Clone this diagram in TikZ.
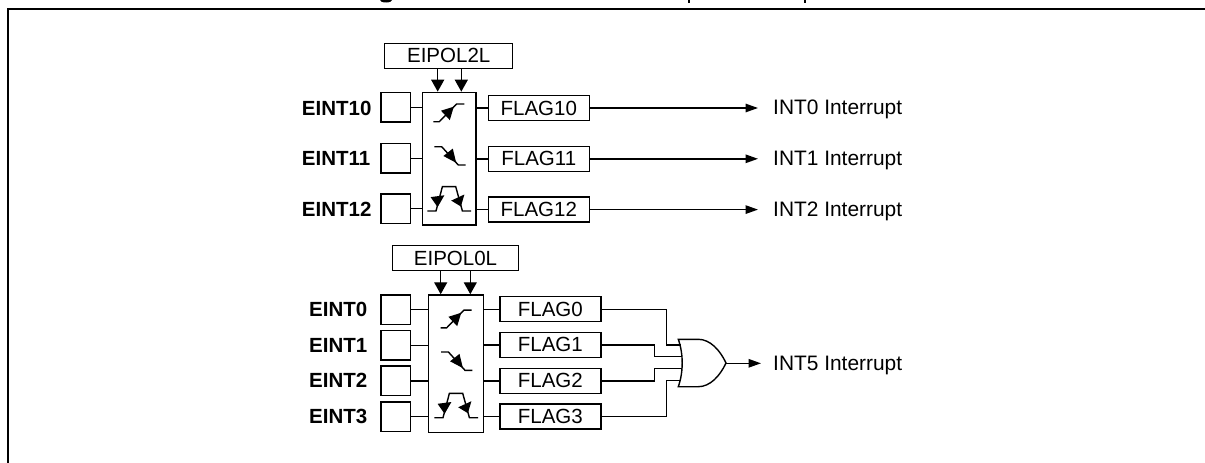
\documentclass[tikz,border=0pt]{standalone}
\usepackage{fontspec}
\setmainfont{Liberation Sans}
\usetikzlibrary{arrows.meta}
\tikzset{
    regbox/.style={draw,line width=1.4pt,inner sep=0pt,minimum width=101pt,minimum height=25pt,font=\fontsize{20.5}{24}\selectfont},
    pinbox/.style={draw,line width=1.4pt,inner sep=0pt,minimum width=29.7pt,minimum height=29.5pt},
    edgebox/.style={draw,line width=1.4pt,inner sep=0pt},
    pinlabel/.style={anchor=west,inner sep=0pt,font=\fontsize{20.5}{24}\selectfont\bfseries},
    intlabel/.style={anchor=west,inner sep=0pt,text height=14.7pt,text depth=0pt,font=\fontsize{20.9}{24}\selectfont},
    wire/.style={line width=1.4pt},
    polarrow/.style={wire,-{Triangle[length=12pt,width=13pt]}},
    intarrow/.style={wire,-{Triangle[length=12.5pt,width=8.5pt]},shorten >=15pt},
    rising/.pic={
        \draw[wire] (-15.5,9) -- (-9.5,9) -- (7.8,-8.7) -- (15.5,-8.7);
        \fill (5,-6) -- (-7.8,-2) -- (1,7.4) -- cycle;
    },
    falling/.pic={
        \draw[wire] (-15.7,-9.3) -- (-8.3,-9.3) -- (8.3,9) -- (15.7,9);
        \fill (6.2,6.8) -- (-6.6,0) -- (2.8,-7.4) -- cycle;
    },
    pulse/.pic={
        \draw[wire] (-21.8,12.7) -- (-13.2,12.7) -- (-6.8,-11.7) -- (6.5,-11.7) -- (13.2,12.7) -- (21.8,12.7);
        \fill (-4.8,-3) -- (-18.6,-1.2) -- (-11.6,8.8) -- cycle;
        \fill (2,2.3) -- (15.2,-3.8) -- (11.7,8.2) -- cycle;
    },
}
\begin{document}
\begin{tikzpicture}[x=1pt,y=-1pt]
    \useasboundingbox (0,0) rectangle (1205,463);
    % Frame, open at the right and at the bottom
    \draw[line width=2pt] (8,463) -- (8,9) -- (1205,9);
    % What is left of the cut-off caption
    \fill (386,0) ellipse (6 and 2.5);
    \foreach \x in {688,804}{
        \fill (\x,0) rectangle ++(2,2.7);
    }

    % Upper group
    \node[regbox,minimum width=128pt] (eipol2) at (448.7,55.8) {EIPOL2L};
    \node[edgebox,minimum width=53.3pt,minimum height=132.7pt] (edge2) at (449.3,158.7) {};
    \draw[polarrow] ([xshift=-11pt]eipol2.south) -- ([xshift=-11pt]eipol2.south |- edge2.north);
    \draw[polarrow] ([xshift=12.6pt]eipol2.south) -- ([xshift=12.6pt]eipol2.south |- edge2.north);
    \pic at (448.8,112.7) {rising};
    \pic at (450,156) {falling};
    \pic at (449.2,198.3) {pulse};
    \foreach \n/\p/\y/\f/\t in {10/0/107.2/108/108,11/1/158.3/158.8/158.3,12/2/208.7/209.6/209}{
        \node[pinlabel] (eint\n) at (301.7,\t) {EINT\n};
        \node[pinbox] (pin\n) at (395.8,\y) {};
        \node[regbox] (flag\n) at (538.8,\f) {FLAG\n};
        \node[intlabel] (int\p) at (773,\y) {INT\p{} Interrupt};
        \draw[wire] (pin\n.east) -- (pin\n.east -| edge2.west);
        \draw[wire] (edge2.east |- flag\n.west) -- (flag\n.west);
        \draw[intarrow] (flag\n.east) -- (flag\n.east -| int\p.west);
    }

    % Lower group
    \node[regbox,minimum width=125.6pt] (eipol0) at (455.5,258) {EIPOL0L};
    \node[edgebox,minimum width=54.6pt,minimum height=137.3pt] (edge0) at (456,363.6) {};
    \draw[polarrow] ([xshift=-14.8pt]eipol0.south) -- ([xshift=-14.8pt]eipol0.south |- edge0.north);
    \draw[polarrow] ([xshift=14.8pt]eipol0.south) -- ([xshift=14.8pt]eipol0.south |- edge0.north);
    \pic at (456.2,318.8) {rising};
    \pic at (456.7,361.3) {falling};
    \pic at (456.2,405) {pulse};
    \foreach \n/\y/\f in {0/309.7/309.2,1/345.3/344.8,2/380.8/380.8,3/416.7/416.4}{
        \node[pinlabel] (eint\n) at (309,\y) {EINT\n};
        \node[pinbox] (pin\n) at (395.8,\y) {};
        \node[regbox] (flag\n) at (550.3,\f) {FLAG\n};
        \draw[wire] (pin\n.east) -- (pin\n.east -| edge0.west);
        \draw[wire] (edge0.east |- flag\n.west) -- (flag\n.west);
    }

    % OR gate with its four inputs on the curved back
    \draw[wire] (678.3,339.3) -- (698.3,339.3) .. controls (710,339.3) and (720,350) .. (726,363)
        .. controls (720,376) and (710,386.7) .. (698.3,386.7) -- (678.3,386.7)
        .. controls (683.5,372) and (683.5,354) .. (678.3,339.3) -- cycle;
    \coordinate (orin1) at (680.5,345);
    \coordinate (orin2) at (682.3,356.7);
    \coordinate (orin3) at (682.3,368.7);
    \coordinate (orin4) at (680.5,380.7);
    \coordinate (orout) at (726,363.3);
    \draw[wire] (flag0.east) -- ++(65,0) |- (orin1);
    \draw[wire] (flag1.east) -- ++(53,0) |- (orin2);
    \draw[wire] (flag2.east) -- ++(53,0) |- (orin3);
    \draw[wire] (flag3.east) -- ++(65,0) |- (orin4);
    \node[intlabel] (int5) at (773,363.3) {INT5 Interrupt};
    \draw[intarrow,shorten >=12pt] (orout) -- (orout -| int5.west);
\end{tikzpicture}
\end{document}
